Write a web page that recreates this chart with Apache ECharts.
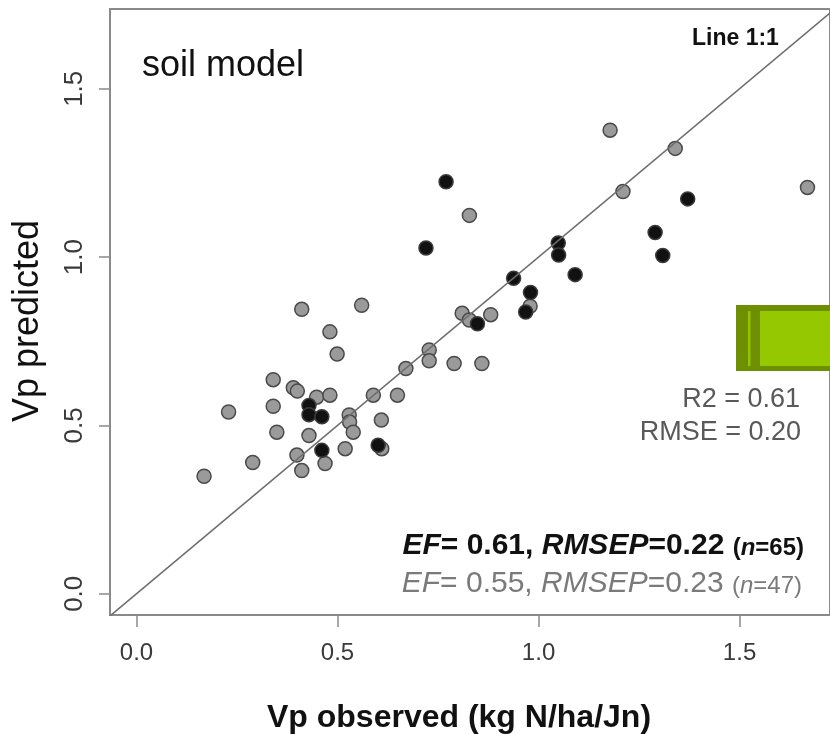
<!DOCTYPE html>
<html>
    <head>
        <meta charset="utf-8">
        <script src="https://cdn.jsdelivr.net/npm/echarts@6/dist/echarts.min.js"></script>
        <style>
            body { margin: 0; background: #fff; }
        </style>
    </head>
    <body>
        <div id="main" style="width: 830px;height:734px;"></div>
        <script type="text/javascript">
            // observed / predicted, grey points (n=47 set)
            var greyObs = [0.411, 0.560, 0.481, 0.499, 0.340, 0.390, 0.400, 0.448, 0.481, 0.340,
                0.229, 0.589, 0.649, 0.529, 0.530, 0.539, 0.609, 0.349, 0.429, 0.519,
                0.610, 0.399, 0.469, 0.411, 0.289, 0.168, 0.670, 0.728, 0.728, 0.790,
                0.859, 0.810, 0.828, 0.881, 0.979, 0.828, 1.178, 1.340, 1.210, 1.669];
            var greyPred = [0.845, 0.857, 0.778, 0.712, 0.636, 0.612, 0.602, 0.584, 0.590, 0.557,
                0.540, 0.590, 0.590, 0.531, 0.510, 0.480, 0.516, 0.480, 0.470, 0.431,
                0.431, 0.412, 0.387, 0.366, 0.390, 0.349, 0.669, 0.724, 0.692, 0.684,
                0.684, 0.833, 0.813, 0.829, 0.854, 1.124, 1.377, 1.323, 1.195, 1.207];
            // black points (n=65 set)
            var blackObs = [0.429, 0.429, 0.461, 0.461, 0.601, 0.770, 0.720, 1.049, 1.050,
                1.091, 0.938, 0.980, 0.968, 0.848, 1.371, 1.290, 1.309];
            var blackPred = [0.559, 0.532, 0.526, 0.426, 0.441, 1.224, 1.027, 1.042, 1.006,
                0.948, 0.937, 0.895, 0.837, 0.802, 1.173, 1.073, 1.005];
            var ticks = [0, 0.5, 1.0, 1.5];
            var lineEnds = [-0.1, 1.8];

            function pairs(xs, ys) {
                var out = [];
                for (var i = 0; i < xs.length; i++) out.push([xs[i], ys[i]]);
                return out;
            }

            var myChart = echarts.init(document.getElementById('main'));
            var axisGrey = '#8a8a8a';
            var labelFont = 'Liberation Sans, Arial, sans-serif';

            var option = {
                animation: false,
                backgroundColor: '#fff',
                grid: {
                    left: 110, top: 9, right: 0, bottom: 119,
                    show: true, borderColor: axisGrey, borderWidth: 2
                },
                xAxis: {
                    type: 'value', min: -0.066, max: 1.725,
                    splitLine: { show: false },
                    axisLine: { show: true, onZero: false, lineStyle: { color: axisGrey, width: 2 } },
                    axisTick: { show: true, length: 12, customValues: ticks, lineStyle: { color: axisGrey, width: 1.5 } },
                    axisLabel: {
                        customValues: ticks, margin: 26, color: '#3a3a3a', fontSize: 24, fontFamily: labelFont,
                        formatter: function (v) { return v.toFixed(1); }
                    }
                },
                yAxis: {
                    type: 'value', min: -0.063, max: 1.737,
                    splitLine: { show: false },
                    axisLine: { show: true, onZero: false, lineStyle: { color: axisGrey, width: 2 } },
                    axisTick: { show: true, length: 11, customValues: ticks, lineStyle: { color: axisGrey, width: 1.5 } },
                    axisLabel: {
                        customValues: ticks, margin: 22, rotate: 90, color: '#3a3a3a', fontSize: 26, fontFamily: labelFont,
                        formatter: function (v) { return v.toFixed(1); }
                    }
                },
                series: [
                    {
                        type: 'line', data: pairs(lineEnds, lineEnds), symbol: 'none', clip: true,
                        lineStyle: { color: '#6e6e6e', width: 1.5 }, silent: true
                    },
                    {
                        type: 'scatter', data: pairs(greyObs, greyPred), symbolSize: 14,
                        itemStyle: { color: '#9a9a9a', borderColor: '#4a4a4a', borderWidth: 1.5, opacity: 1 }
                    },
                    {
                        type: 'scatter', data: pairs(blackObs, blackPred), symbolSize: 14,
                        itemStyle: { color: '#111', borderColor: '#3a3a3a', borderWidth: 1.5, opacity: 1 }
                    }
                ],
                graphic: [
                    {
                        type: 'text', x: 142, y: 66,
                        style: { text: 'soil model', fontSize: 36, fontFamily: labelFont, fill: '#111', verticalAlign: 'middle' }
                    },
                    {
                        type: 'text', x: 692, y: 39,
                        style: { text: 'Line 1:1', fontSize: 23, fontWeight: 'bold', fontFamily: labelFont, fill: '#111', verticalAlign: 'middle' }
                    },
                    // green box pasted over the plot
                    {
                        type: 'rect', shape: { x: 736, y: 305, width: 94, height: 66 },
                        style: { fill: '#6e9000' }
                    },
                    {
                        type: 'rect', shape: { x: 748, y: 311, width: 2.5, height: 55 },
                        style: { fill: '#94c400' }
                    },
                    {
                        type: 'rect', shape: { x: 760, y: 311, width: 70, height: 55 },
                        style: { fill: '#96c800' }
                    },
                    {
                        type: 'text', x: 800, y: 400,
                        style: { text: 'R2 = 0.61', fontSize: 27, fontFamily: labelFont, fill: '#595959', align: 'right', verticalAlign: 'middle' }
                    },
                    {
                        type: 'text', x: 801, y: 433,
                        style: { text: 'RMSE = 0.20', fontSize: 27, fontFamily: labelFont, fill: '#595959', align: 'right', verticalAlign: 'middle' }
                    },
                    {
                        type: 'text', x: 804, y: 546,
                        style: {
                            text: '{i|EF}{b|= 0.61, }{i|RMSEP}{b|=0.22 }{s|(}{si|n}{s|=65)}',
                            align: 'right', verticalAlign: 'middle', fill: '#111',
                            rich: {
                                i: { fontSize: 30, fontWeight: 'bold', fontStyle: 'italic', fontFamily: labelFont, fill: '#111' },
                                b: { fontSize: 30, fontWeight: 'bold', fontFamily: labelFont, fill: '#111' },
                                s: { fontSize: 24, fontWeight: 'bold', fontFamily: labelFont, fill: '#111', padding: [4, 0, 0, 0] },
                                si: { fontSize: 24, fontWeight: 'bold', fontStyle: 'italic', fontFamily: labelFont, fill: '#111', padding: [4, 0, 0, 0] }
                            }
                        }
                    },
                    {
                        type: 'text', x: 802, y: 584,
                        style: {
                            text: '{i|EF}{r|= 0.55, }{i|RMSEP}{r|=0.23 }{s|(}{si|n}{s|=47)}',
                            align: 'right', verticalAlign: 'middle', fill: '#7a7a7a',
                            rich: {
                                i: { fontSize: 30, fontStyle: 'italic', fontFamily: labelFont, fill: '#7a7a7a' },
                                r: { fontSize: 30, fontFamily: labelFont, fill: '#7a7a7a' },
                                s: { fontSize: 24, fontFamily: labelFont, fill: '#7a7a7a', padding: [4, 0, 0, 0] },
                                si: { fontSize: 24, fontStyle: 'italic', fontFamily: labelFont, fill: '#7a7a7a', padding: [4, 0, 0, 0] }
                            }
                        }
                    },
                    // axis titles
                    {
                        type: 'text', x: 28, y: 321, rotation: Math.PI / 2,
                        style: { text: 'Vp predicted', fontSize: 36, fontFamily: labelFont, fill: '#111', align: 'center', verticalAlign: 'middle' }
                    },
                    {
                        type: 'text', x: 459, y: 718,
                        style: { text: 'Vp observed (kg N/ha/Jn)', fontSize: 32, fontWeight: 'bold', fontFamily: labelFont, fill: '#111', align: 'center', verticalAlign: 'middle' }
                    }
                ]
            };

            myChart.setOption(option);
        </script>
    </body>
</html>
